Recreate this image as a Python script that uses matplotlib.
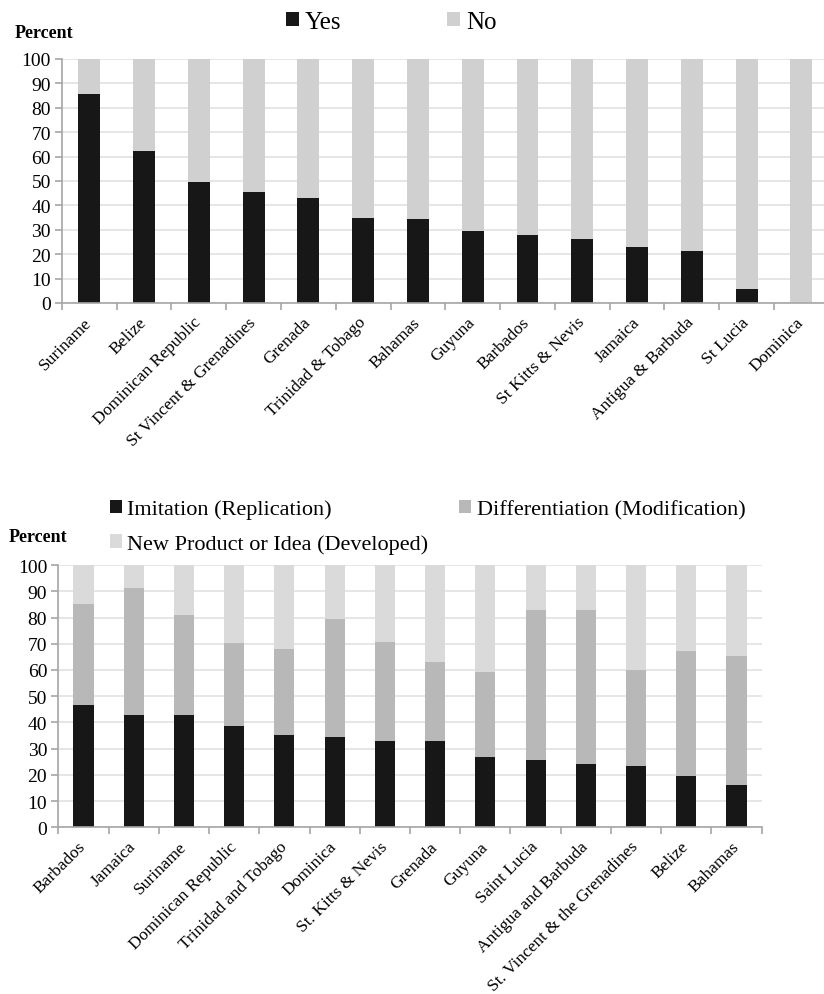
import matplotlib.pyplot as plt
import numpy as np

plt.rcParams['font.family'] = ['Liberation Serif', 'DejaVu Serif']

# top chart: yes / no
top_countries = ['Suriname', 'Belize', 'Dominican Republic', 'St Vincent & Grenadines',
                 'Grenada', 'Trinidad & Tobago', 'Bahamas', 'Guyuna', 'Barbados',
                 'St Kitts & Nevis', 'Jamaica', 'Antigua & Barbuda', 'St Lucia', 'Dominica']
yes = [85.6, 62.3, 49.6, 45.5, 43.2, 35.0, 34.6, 29.6, 28.0, 26.1, 23.1, 21.2, 5.6, 0.0]
no = [100 - v for v in yes]

# bottom chart: type of innovation
bot_countries = ['Barbados', 'Jamaica', 'Suriname', 'Dominican Republic', 'Trinidad and Tobago',
                 'Dominica', 'St. Kitts & Nevis', 'Grenada', 'Guyuna', 'Saint Lucia',
                 'Antigua and Barbuda', 'St. Vincent & the Grenadines', 'Belize', 'Bahamas']
imitation = [46.6, 42.9, 42.7, 38.7, 35.2, 34.5, 32.8, 32.8, 26.9, 25.5, 24.3, 23.4, 19.7, 16.1]
diff_top = [85.1, 91.2, 80.9, 70.3, 68.0, 79.4, 70.6, 63.1, 59.3, 82.8, 82.8, 60.1, 67.2, 65.3]
differentiation = [d - i for d, i in zip(diff_top, imitation)]
new_product = [100 - d for d in diff_top]

BLACK = '#171717'
GRID = '#e2e2e2'
SPINE = '#a6a6a6'

fig = plt.figure(figsize=(8.24, 9.95), dpi=100)


def style_axes(ax, labels):
    n = len(labels)
    ax.set_ylim(0, 100)
    ax.set_xlim(-0.5, n - 0.5)
    ax.set_yticks(np.arange(0, 101, 10))
    ax.yaxis.grid(True, color=GRID, linewidth=1.2)
    ax.set_axisbelow(True)
    for s in ['top', 'right']:
        ax.spines[s].set_visible(False)
    for s in ['left', 'bottom']:
        ax.spines[s].set_color(SPINE)
        ax.spines[s].set_linewidth(1.2)
    ax.set_xticks(np.arange(n))
    ax.set_xticklabels(labels, rotation=45, ha='right', va='center',
                       rotation_mode='anchor', fontsize=12.5)
    ax.set_xticks(np.arange(-0.5, n, 1.0), minor=True)
    ax.tick_params(axis='x', which='major', length=0, pad=12)
    ax.tick_params(axis='x', which='minor', length=5, color=SPINE, width=1.2)
    ax.tick_params(axis='y', length=5, color=SPINE, width=1.2, labelsize=14, pad=3)


ax1 = fig.add_axes([0.0752, 0.6945, 0.9305, 0.2452])
x = np.arange(len(top_countries))
b1 = ax1.bar(x, yes, width=0.4, color=BLACK)
b2 = ax1.bar(x, no, bottom=yes, width=0.4, color='#d0d0d0')
style_axes(ax1, top_countries)
fig.text(0.018, 0.966, 'Percent', fontsize=13, fontweight='bold', ha='left', va='center')
fig.legend([b1, b2], ['Yes', 'No'], loc='center left', bbox_to_anchor=(0.347, 0.977), ncol=2,
           frameon=False, fontsize=18, handlelength=0.52, handleheight=0.52,
           handletextpad=0.25, columnspacing=4.2, borderpad=0, borderaxespad=0)

ax2 = fig.add_axes([0.0708, 0.1675, 0.8535, 0.2636])
x2 = np.arange(len(bot_countries))
c1 = ax2.bar(x2, imitation, width=0.4, color=BLACK)
c2 = ax2.bar(x2, differentiation, bottom=imitation, width=0.4, color='#b8b8b8')
c3 = ax2.bar(x2, new_product, bottom=diff_top, width=0.4, color='#dadada')
style_axes(ax2, bot_countries)
fig.text(0.010, 0.460, 'Percent', fontsize=13, fontweight='bold', ha='left', va='center')
fig.legend([c1, c3, c2],
           ['Imitation (Replication)', 'New Product or Idea (Developed)',
            'Differentiation (Modification)'],
           loc='upper left', bbox_to_anchor=(0.133, 0.497), ncol=2, frameon=False,
           fontsize=16, handlelength=0.55, handleheight=0.55, handletextpad=0.25,
           columnspacing=1.38, labelspacing=0.67, borderpad=0, borderaxespad=0)

fig.savefig('out.png', dpi=100)
